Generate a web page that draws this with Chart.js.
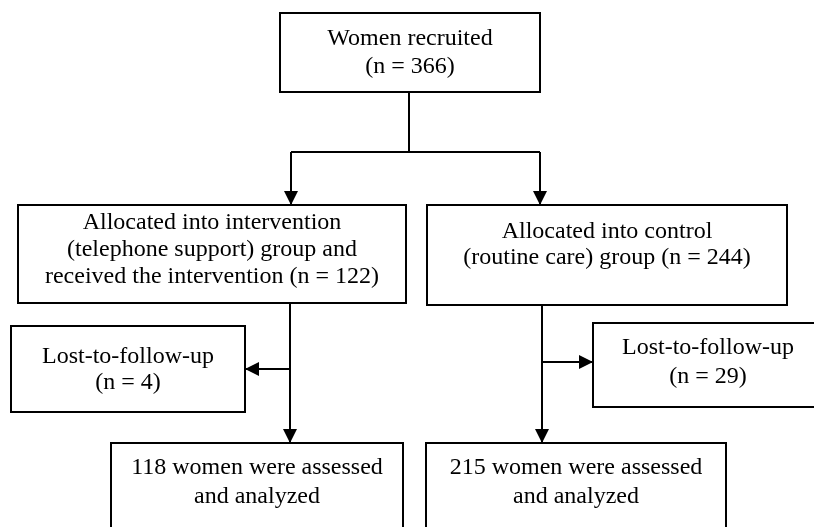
<!DOCTYPE html>
<html>
<head>
<meta charset="utf-8">
<script src="https://cdn.jsdelivr.net/npm/chart.js@4/dist/chart.umd.min.js"></script>
<style>
  html, body { margin: 0; padding: 0; background: #ffffff; }
  #wrap { width: 814px; height: 527px; }
</style>
</head>
<body>
<div id="wrap"><canvas id="flow" width="814" height="527"></canvas></div>
<script>
// numbers of women at each step of the study
const steps = ["recruited", "intervention", "control", "lostIntervention", "lostControl", "analyzedIntervention", "analyzedControl"];
const counts = [366, 122, 244, 4, 29, 118, 215];

// text of each box ({n} is replaced by the count)
const boxText = [
  ["Women recruited", "(n = {n})"],
  ["Allocated into intervention", "(telephone support) group and", "received the intervention (n = {n})"],
  ["Allocated into control", "(routine care) group (n = {n})"],
  ["Lost-to-follow-up", "(n = {n})"],
  ["Lost-to-follow-up", "(n = {n})"],
  ["{n} women were assessed", "and analyzed"],
  ["{n} women were assessed", "and analyzed"]
];

// layout, in axis units (0..814 across, 0..527 down)
const boxRect = [
  [280, 13, 540, 92],
  [18, 205, 406, 303],
  [427, 205, 787, 305],
  [11, 326, 245, 412],
  [593, 323, 823, 407],
  [111, 443, 403, 560],
  [426, 443, 726, 560]
];
const lineRows = [
  [39, 67],
  [223, 250, 277],
  [232, 258],
  [357, 383],
  [348, 377],
  [468, 497],
  [468, 497]
];
// connectors: [x0, y0, x1, y1, arrow]
const links = [
  [409, 92, 409, 152, false],
  [291, 152, 540, 152, false],
  [291, 152, 291, 205, true],
  [540, 152, 540, 205, true],
  [290, 303, 290, 443, true],
  [290, 369, 245, 369, true],
  [542, 305, 542, 443, true],
  [542, 362, 593, 362, true]
];

const flowPlugin = {
  id: "flow",
  afterDraw(chart) {
    const ctx = chart.ctx;
    const xs = chart.scales.x;
    const ys = chart.scales.y;
    const px = v => xs.getPixelForValue(v);
    const py = v => ys.getPixelForValue(v);
    ctx.save();
    ctx.strokeStyle = "#000";
    ctx.fillStyle = "#000";
    ctx.lineWidth = 2;

    // connectors and arrow heads
    links.forEach(l => {
      const x0 = px(l[0]), y0 = py(l[1]), x1 = px(l[2]), y1 = py(l[3]);
      ctx.beginPath();
      ctx.moveTo(x0, y0);
      ctx.lineTo(x1, y1);
      ctx.stroke();
      if (l[4]) {
        const a = Math.atan2(y1 - y0, x1 - x0);
        const len = 14, half = 7;
        ctx.beginPath();
        ctx.moveTo(x1, y1);
        ctx.lineTo(x1 - len * Math.cos(a) - half * Math.sin(a), y1 - len * Math.sin(a) + half * Math.cos(a));
        ctx.lineTo(x1 - len * Math.cos(a) + half * Math.sin(a), y1 - len * Math.sin(a) - half * Math.cos(a));
        ctx.closePath();
        ctx.fill();
      }
    });

    // boxes
    ctx.font = "24px 'Liberation Serif', 'Times New Roman', serif";
    ctx.textAlign = "center";
    ctx.textBaseline = "middle";
    steps.forEach((s, i) => {
      const r = boxRect[i];
      const x0 = px(r[0]), y0 = py(r[1]), x1 = px(r[2]), y1 = py(r[3]);
      ctx.fillStyle = "#fff";
      ctx.fillRect(x0, y0, x1 - x0, y1 - y0);
      ctx.strokeRect(x0, y0, x1 - x0, y1 - y0);
      ctx.fillStyle = "#000";
      const cx = (x0 + x1) / 2;
      boxText[i].forEach((t, j) => {
        ctx.fillText(t.replace("{n}", counts[i]), cx, py(lineRows[i][j]));
      });
    });
    ctx.restore();
  }
};

new Chart(document.getElementById("flow"), {
  type: "scatter",
  data: {
    datasets: [{
      label: "steps",
      data: boxRect.map((r, i) => ({ x: (r[0] + r[2]) / 2, y: (r[1] + r[3]) / 2, n: counts[i] })),
      pointRadius: 0
    }]
  },
  options: {
    responsive: false,
    animation: false,
    layout: { padding: 0 },
    plugins: { legend: { display: false }, tooltip: { enabled: false } },
    scales: {
      x: { type: "linear", min: 0, max: 814, display: false },
      y: { type: "linear", min: 0, max: 527, reverse: true, display: false }
    }
  },
  plugins: [flowPlugin]
});
</script>
</body>
</html>
